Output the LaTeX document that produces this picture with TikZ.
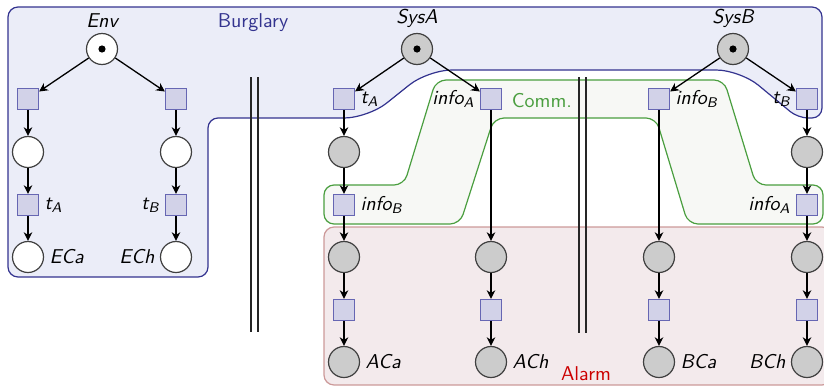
\documentclass[tikz,border=0pt]{standalone}
\usetikzlibrary{arrows.meta}
\definecolor{burgfill}{HTML}{EBEDF8}
\definecolor{burgline}{HTML}{33338F}
\definecolor{commfill}{HTML}{F7F8F5}
\definecolor{commline}{HTML}{4A9E3F}
\definecolor{alarmfill}{HTML}{F3EAEC}
\definecolor{alarmline}{HTML}{CC9999}
\definecolor{alarmtext}{HTML}{CC0000}
\definecolor{transfill}{HTML}{D2D2E8}
\definecolor{transline}{HTML}{6666B3}
\definecolor{placefill}{HTML}{CCCCCC}
\definecolor{placeline}{HTML}{404040}
\newcommand{\lb}[2]{\itshape #1\textsubscript{#2}}
\begin{document}
\begin{tikzpicture}[x=0.5pt,y=-0.5pt,font=\sffamily,
  place/.style={circle,draw=placeline,fill=placefill,line width=0.6pt,minimum size=15.5pt,inner sep=0pt},
  eplace/.style={place,fill=white},
  token/.style={path picture={\fill[black] (path picture bounding box.center) circle (1.8pt);}},
  trans/.style={rectangle,draw=transline,fill=transfill,line width=0.6pt,minimum size=10.5pt,inner sep=0pt},
  lab/.style={font=\sffamily\itshape,inner sep=2.5pt},
  arc/.style={-{Stealth[length=4.3pt,width=4.3pt,inset=1.3pt]},line width=0.65pt,black},
  region/.style={line width=0.6pt,rounded corners=5pt},
  barline/.style={line width=0.65pt,black!85}]
\useasboundingbox (0,0) rectangle (824,386);
% regions
\draw[region,draw=burgline,fill=burgfill]
  (8,7) -- (822,7) -- (822,118) -- (798,118) [rounded corners=12pt] -- (740,70) -- (428,70) -- (368,118) [rounded corners=5pt] -- (208,118) -- (208,277) -- (8,277) -- cycle;
\draw[region,draw=commline,fill=commfill]
  (436,80) -- (724,80) -- (756,185) -- (823,185) -- (823,224) -- (688,224) -- (656,118) -- (494,118) -- (460,224) -- (324,224) -- (324,185) -- (404,185) -- cycle;
\draw[region,draw=alarmline,fill=alarmfill] (324,227) rectangle (832,385);
\node[text=burgline] (burg) at (253,23) {Burglary};
\node[text=commline] (comm) at (542,101) {Comm.};
\node[text=alarmtext] (alarm) at (586,374) {Alarm};
% separators
\draw[barline] (251,77) -- (251,332);
\draw[barline] (258,77) -- (258,332);
\draw[barline] (579,77) -- (579,333);
\draw[barline] (586,77) -- (586,333);
% Env
\node[eplace,token,label={[lab]above:Env}] (env) at (102,49) {};
\node[trans] (e1) at (28,99) {};
\node[trans] (e2) at (176,99) {};
\node[eplace] (e3) at (28,152) {};
\node[eplace] (e4) at (176,152) {};
\node[trans,label={[lab]right:\lb{t}{A}}] (e5) at (28,205) {};
\node[trans,label={[lab]left:\lb{t}{B}}] (e6) at (176,205) {};
\node[eplace,label={[lab]right:ECa}] (eca) at (28,257) {};
\node[eplace,label={[lab]left:ECh}] (ech) at (176,257) {};
% SysA
\node[place,token,label={[lab]above:SysA}] (sa) at (417,49) {};
\node[trans,label={[lab]right:\lb{t}{A}}] (ta) at (344,99) {};
\node[trans,label={[lab]left:\lb{info}{A}}] (ia) at (491,99) {};
\node[place] (a1) at (344,152) {};
\node[trans,label={[lab]right:\lb{info}{B}}] (ib) at (344,205) {};
\node[place] (a2) at (344,257) {};
\node[place] (a3) at (491,257) {};
\node[trans] (a4) at (344,310) {};
\node[trans] (a5) at (491,310) {};
\node[place,label={[lab]right:ACa}] (aca) at (344,362) {};
\node[place,label={[lab]right:ACh}] (ach) at (491,362) {};
% SysB
\node[place,token,label={[lab]above:SysB}] (sb) at (733,49) {};
\node[trans,label={[lab]right:\lb{info}{B}}] (ib2) at (659,99) {};
\node[trans,label={[lab]left:\lb{t}{B}}] (tb) at (807,99) {};
\node[place] (b1) at (807,152) {};
\node[trans,label={[lab]left:\lb{info}{A}}] (ia2) at (807,205) {};
\node[place] (b2) at (659,257) {};
\node[place] (b3) at (807,257) {};
\node[trans] (b4) at (659,310) {};
\node[trans] (b5) at (807,310) {};
\node[place,label={[lab]right:BCa}] (bca) at (659,362) {};
\node[place,label={[lab]left:BCh}] (bch) at (807,362) {};
% arcs
\draw[arc] (env) -- (e1);
\draw[arc] (env) -- (e2);
\draw[arc] (e1) -- (e3);
\draw[arc] (e3) -- (e5);
\draw[arc] (e5) -- (eca);
\draw[arc] (e2) -- (e4);
\draw[arc] (e4) -- (e6);
\draw[arc] (e6) -- (ech);
\draw[arc] (sa) -- (ta);
\draw[arc] (sa) -- (ia);
\draw[arc] (ta) -- (a1);
\draw[arc] (a1) -- (ib);
\draw[arc] (ib) -- (a2);
\draw[arc] (a2) -- (a4);
\draw[arc] (a4) -- (aca);
\draw[arc] (ia) -- (a3);
\draw[arc] (a3) -- (a5);
\draw[arc] (a5) -- (ach);
\draw[arc] (sb) -- (ib2);
\draw[arc] (sb) -- (tb);
\draw[arc] (ib2) -- (b2);
\draw[arc] (b2) -- (b4);
\draw[arc] (b4) -- (bca);
\draw[arc] (tb) -- (b1);
\draw[arc] (b1) -- (ia2);
\draw[arc] (ia2) -- (b3);
\draw[arc] (b3) -- (b5);
\draw[arc] (b5) -- (bch);
\end{tikzpicture}
\end{document}
